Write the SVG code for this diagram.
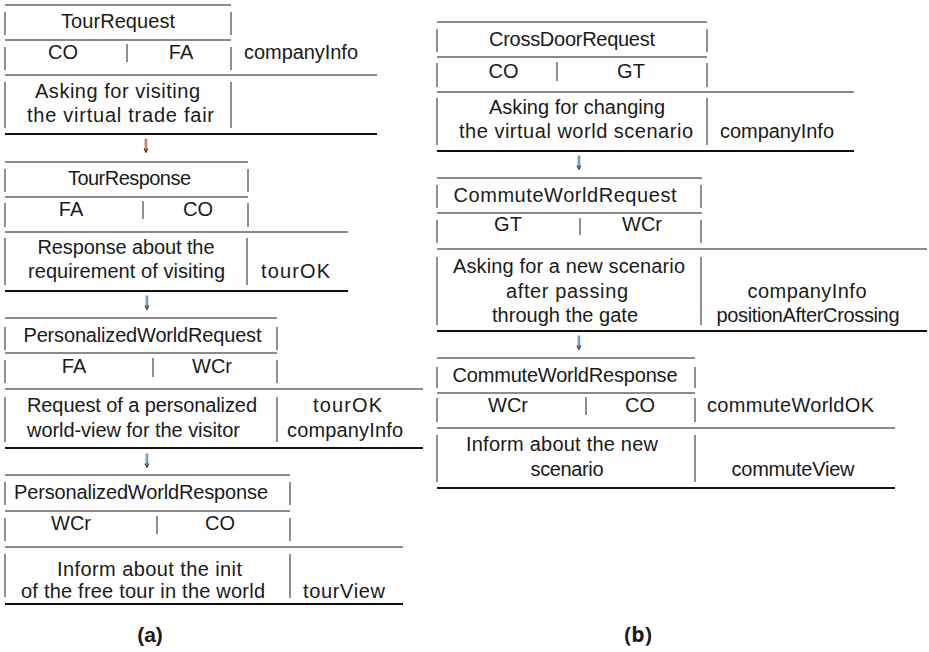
<svg xmlns="http://www.w3.org/2000/svg" width="929" height="652" viewBox="0 0 929 652">
<style>
.bg{fill:#ffffff}
.h{stroke:#666666;stroke-width:1.3;fill:none}
.v{stroke:#333333;stroke-width:1.1;fill:none}
.k{stroke:#111111;stroke-width:2.2;fill:none}
text{font-family:"Liberation Sans",Arial,Helvetica,sans-serif;font-size:20px;fill:#1a1a1a}
.c{text-anchor:middle}
.arr{font-family:"DejaVu Sans",sans-serif;font-size:20px;text-anchor:middle;fill:#111111}
.cap{font-weight:bold;text-anchor:middle;font-size:21px}
</style>
<rect class="bg" x="0" y="0" width="929" height="652"/>

<g id="node-TourRequest">
<path class="h" d="M5 5H231M5 40H231M5 75H377"/>
<path class="v" d="M5 12V35M231 12V35M5 47V70M231 47V70M127 44V62M5 82V128M231 82V128"/>
<path class="k" d="M5 134H377"/>
<text class="c" x="118" y="28" textLength="114" lengthAdjust="spacing">TourRequest</text>
<text class="c" x="63" y="59">CO</text>
<text class="c" x="181" y="59">FA</text>
<text x="244" y="59" textLength="114" lengthAdjust="spacing">companyInfo</text>
<text class="c" x="117.5" y="98" textLength="165" lengthAdjust="spacing">Asking for visiting</text>
<text class="c" x="120.5" y="122" textLength="187" lengthAdjust="spacing">the virtual trade fair</text>
</g>

<g id="node-TourResponse">
<path class="h" d="M5 162H248M5 197H248M5 232H348"/>
<path class="v" d="M5 169V192M248 169V192M5 203V227M248 203V227M143 201V219M5 238V285M247 238V285"/>
<path class="k" d="M5 291H348"/>
<text class="c" x="129.5" y="185" textLength="123" lengthAdjust="spacing">TourResponse</text>
<text class="c" x="71" y="216">FA</text>
<text class="c" x="198" y="216">CO</text>
<text class="c" x="126" y="254" textLength="177" lengthAdjust="spacing">Response about the</text>
<text class="c" x="126.5" y="278" textLength="197" lengthAdjust="spacing">requirement of visiting</text>
<text x="261" y="278" textLength="69" lengthAdjust="spacing">tourOK</text>
</g>

<g id="node-PersonalizedWorldRequest">
<path class="h" d="M5 318H277M5 353H277M5 389H423"/>
<path class="v" d="M5 327V350M277 327V350M5 360V383M277 360V383M153 358V377M5 397V442M277 397V442"/>
<path class="k" d="M5 448H423"/>
<text class="c" x="142.5" y="342" textLength="238" lengthAdjust="spacing">PersonalizedWorldRequest</text>
<text class="c" x="74" y="373">FA</text>
<text class="c" x="212" y="373">WCr</text>
<text class="c" x="142" y="412" textLength="230" lengthAdjust="spacing">Request of a personalized</text>
<text class="c" x="133.5" y="437" textLength="213" lengthAdjust="spacing">world-view for the visitor</text>
<text class="c" x="347.5" y="412" textLength="69" lengthAdjust="spacing">tourOK</text>
<text class="c" x="345" y="437" textLength="116" lengthAdjust="spacing">companyInfo</text>
</g>

<g id="node-PersonalizedWorldResponse">
<path class="h" d="M5 475H290M5 511H290M5 547H403"/>
<path class="v" d="M5 482V505M290 482V505M5 518V541M290 518V541M157 516V534M5 554V597M290 554V598"/>
<path class="k" d="M5 604H403"/>
<text class="c" x="141" y="499" textLength="254" lengthAdjust="spacing">PersonalizedWorldResponse</text>
<text class="c" x="71" y="530">WCr</text>
<text class="c" x="220" y="530">CO</text>
<text class="c" x="149.5" y="576" textLength="185" lengthAdjust="spacing">Inform about the init</text>
<text class="c" x="143" y="598" textLength="244" lengthAdjust="spacing">of the free tour in the world</text>
<text x="303" y="598" textLength="82" lengthAdjust="spacing">tourView</text>
</g>

<g id="node-CrossDoorRequest">
<path class="h" d="M437 22H707M437 57H707M437 92H854"/>
<path class="v" d="M437 29V52M707 29V52M437 63V87M707 63V87M557 62V81M437 98V145M707 98V145"/>
<path class="k" d="M437 151H854"/>
<text class="c" x="572" y="46" textLength="166" lengthAdjust="spacing">CrossDoorRequest</text>
<text class="c" x="503.5" y="78">CO</text>
<text class="c" x="631" y="78">GT</text>
<text class="c" x="577" y="114" textLength="176" lengthAdjust="spacing">Asking for changing</text>
<text class="c" x="576" y="138" textLength="234" lengthAdjust="spacing">the virtual world scenario</text>
<text x="720" y="138" textLength="114" lengthAdjust="spacing">companyInfo</text>
</g>

<g id="node-CommuteWorldRequest">
<path class="h" d="M437 178H702M437 213H702M437 249H927"/>
<path class="v" d="M437 185V208M701 185V208M437 220V243M701 220V243M580 218V235M437 257V325M701 257V325"/>
<path class="k" d="M437 331H927"/>
<text class="c" x="565" y="202" textLength="223" lengthAdjust="spacing">CommuteWorldRequest</text>
<text class="c" x="508" y="231">GT</text>
<text class="c" x="642" y="231">WCr</text>
<text class="c" x="569" y="273" textLength="232" lengthAdjust="spacing">Asking for a new scenario</text>
<text class="c" x="567" y="298" textLength="122" lengthAdjust="spacing">after passing</text>
<text class="c" x="565" y="322" textLength="146" lengthAdjust="spacing">through the gate</text>
<text class="c" x="807" y="298" textLength="119" lengthAdjust="spacing">companyInfo</text>
<text class="c" x="808" y="322" textLength="183" lengthAdjust="spacing">positionAfterCrossing</text>
</g>

<g id="node-CommuteWorldResponse">
<path class="h" d="M437 358H695M437 393H695M437 428H895"/>
<path class="v" d="M437 367V388M695 367V388M437 398V422M695 398V422M586 397V415M437 435V482M695 435V482"/>
<path class="k" d="M437 488H895"/>
<text class="c" x="565" y="382" textLength="225" lengthAdjust="spacing">CommuteWorldResponse</text>
<text class="c" x="508" y="412">WCr</text>
<text class="c" x="640" y="412">CO</text>
<text x="707" y="412" textLength="167" lengthAdjust="spacing">commuteWorldOK</text>
<text class="c" x="562" y="451" textLength="192" lengthAdjust="spacing">Inform about the new</text>
<text class="c" x="567" y="476" textLength="73" lengthAdjust="spacing">scenario</text>
<text class="c" x="793" y="476" textLength="123" lengthAdjust="spacing">commuteView</text>
</g>

<g id="connectors">
<text class="arr" transform="translate(146,153) scale(0.5,1)">⇓</text>
<text class="arr" transform="translate(147,310) scale(0.5,1)">⇓</text>
<text class="arr" transform="translate(147,468) scale(0.5,1)">⇓</text>
<text class="arr" transform="translate(579,170) scale(0.5,1)">⇓</text>
<text class="arr" transform="translate(579,350) scale(0.5,1)">⇓</text>
</g>

<text class="cap" x="150" y="642">(a)</text>
<text class="cap" x="638" y="642" style="font-family:'Open Sans','Noto Sans',sans-serif">(b)</text>
</svg>
